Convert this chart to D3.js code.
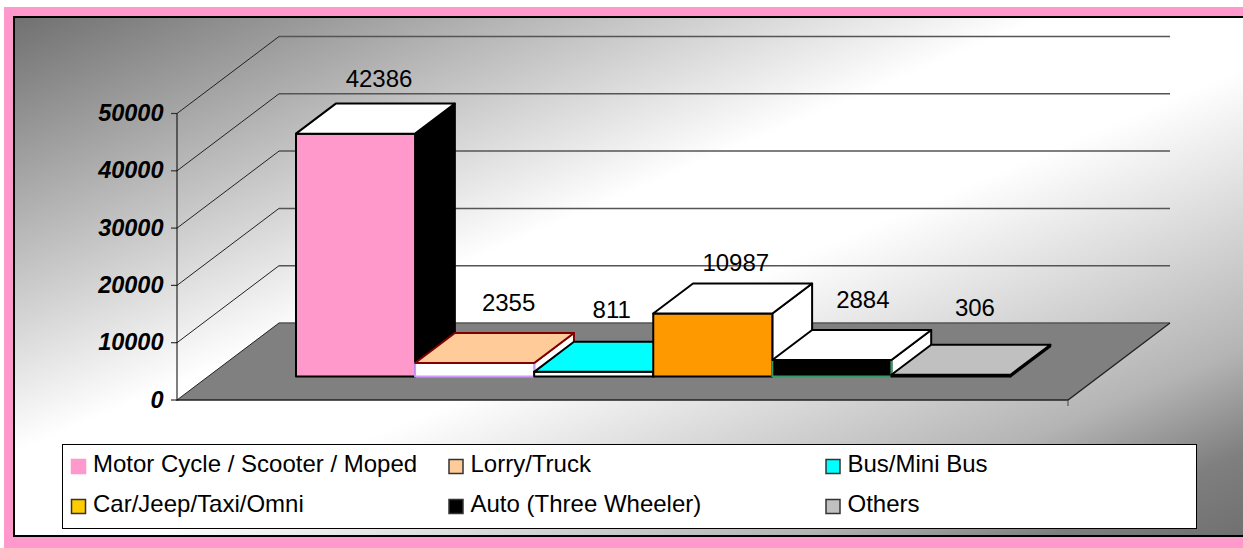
<!DOCTYPE html>
<html><head><meta charset="utf-8">
<style>html,body{margin:0;padding:0;background:#fff}svg{display:block}text{font-family:"Liberation Sans",Arial,sans-serif}</style>
<script src="https://cdn.jsdelivr.net/npm/d3@7/dist/d3.min.js"></script>
</head><body><svg id="c" width="1243" height="548"></svg>
<script>
const categories=["Motor Cycle / Scooter / Moped","Lorry/Truck","Bus/Mini Bus","Car/Jeep/Taxi/Omni","Auto (Three Wheeler)","Others"];
const values=[42386,2355,811,10987,2884,306];
const yTicks=[0,10000,20000,30000,40000,50000];

const frontFill=["#FF99CC","#FFFFFF","#FFFFFF","#FF9900","#000000","#000000"];
const topFill=["#FFFFFF","#FFCC99","#00FFFF","#FFFFFF","#FFFFFF","#C0C0C0"];
const sideFill=["#000000","#FFFFFF","#FFFFFF","#FFFFFF","#FFFFFF","#000000"];
const strokeTop=["#000","#800000","#000","#000","#000","#000"];
const strokeFront=["#000","#CC99FF","#000","#000","#339966","#000"];
const legendFill=["#FF99CC","#FFCC99","#00FFFF","#FFCC00","#000000","#C0C0C0"];

const svg=d3.select("#c");
const defs=svg.append("defs");
const g=defs.append("linearGradient").attr("id","bg").attr("x1",0).attr("y1",0).attr("x2",1).attr("y2",1);
[[0,"#707070"],[0.42,"#ffffff"],[0.55,"#ffffff"],[0.82,"#b4b4b4"],[0.92,"#7f7f7f"],[1,"#707070"]].forEach(d=>g.append("stop").attr("offset",d[0]).attr("stop-color",d[1]));

svg.append("rect").attr("x",4).attr("y",7).attr("width",1239).attr("height",541).attr("fill","#FF99CC");
svg.append("rect").attr("x",13).attr("y",17).attr("width",1230).attr("height",519).attr("fill","url(#bg)");
svg.append("path").attr("d","M1243,17H14V536H1243").attr("fill","none").attr("stroke","#000").attr("stroke-width",2);

// oblique projection: (x along the axis, y value, z depth 0..1)
const xS=d3.scaleLinear().domain([0,6]).range([296,1010.5]);
const yS=d3.scaleLinear().domain([0,50000]).range([400,113.5]);
const depthX=102, depthY=-77;
const P=(x,y,z)=>[x+z*depthX,y+z*depthY];
const poly=pts=>"M"+pts.map(p=>p.join(",")).join("L")+"Z";
const axisX0=177, axisX1=1068;

// walls and floor
const gridG=svg.append("g");
gridG.append("path").attr("d",poly([P(axisX0,400,0),P(axisX1,400,0),P(axisX1,400,1),P(axisX0,400,1)]))
  .attr("fill","#808080").attr("stroke","none");
yTicks.forEach(t=>{
  const y=yS(t);
  const a=P(axisX0,y,0),b=P(axisX0,y,1),c=P(axisX1,y,1);
  gridG.append("line").attr("x1",b[0]).attr("y1",b[1]).attr("x2",c[0]).attr("y2",c[1]).attr("stroke","#555").attr("stroke-width",1.5);
  gridG.append("line").attr("x1",a[0]).attr("y1",a[1]).attr("x2",b[0]).attr("y2",b[1]).attr("stroke","#222");
  gridG.append("line").attr("x1",axisX0-6).attr("x2",axisX0).attr("y1",y).attr("y2",y).attr("stroke","#333").attr("stroke-width",1.2);
});
gridG.append("path").attr("d",`M${P(axisX0,400,0)}L${P(axisX1,400,0)}L${P(axisX1,400,1)}`).attr("fill","none").attr("stroke","#222").attr("stroke-width",1.3);
gridG.append("line").attr("x1",axisX0).attr("x2",axisX0).attr("y1",yS(50000)).attr("y2",401).attr("stroke","#000");
gridG.append("line").attr("x1",axisX1).attr("x2",axisX1).attr("y1",400).attr("y2",406).attr("stroke","#444");

svg.append("g").selectAll("text").data(yTicks).join("text")
  .attr("x",axisX0-13.5).attr("y",d=>yS(d)+7.5).attr("text-anchor","end")
  .attr("font-size",23.5).attr("font-weight","bold").attr("font-style","italic").attr("fill","#000").text(d=>d);

// bars, drawn left to right so later bars overlap earlier ones
const zd=0.39, barBase=376.5;
const labelDx=[23.5,34,18,23,31,24], labelDy=[-47,-52.5,-54,-43,-51.5,-59];
const barG=svg.append("g");
values.forEach((v,i)=>{
  const xa=xS(i), xb=xS(i+1), yb=barBase, yt=yb-(yS(0)-yS(v));
  const front=(x,y)=>[x,y];
  const back=(x,y)=>[x+zd*depthX,y+zd*depthY];
  barG.append("path").attr("d",poly([front(xb,yt),back(xb,yt),back(xb,yb),front(xb,yb)]))
    .attr("fill",sideFill[i]).attr("stroke",strokeTop[i]).attr("stroke-width",2).attr("stroke-linejoin","round");
  barG.append("path").attr("d",poly([front(xa,yb),front(xb,yb),front(xb,yt),front(xa,yt)]))
    .attr("fill",frontFill[i]).attr("stroke",strokeFront[i]).attr("stroke-width",2).attr("stroke-linejoin","round");
  barG.append("path").attr("d",poly([front(xa,yt),front(xb,yt),back(xb,yt),back(xa,yt)]))
    .attr("fill",topFill[i]).attr("stroke",strokeTop[i]).attr("stroke-width",2).attr("stroke-linejoin","round");
  barG.append("text").attr("x",(xa+xb)/2+labelDx[i]).attr("y",yt+labelDy[i]).attr("text-anchor","middle")
    .attr("font-size",24).attr("fill","#000").text(v);
});

// legend
const lg=svg.append("g");
lg.append("rect").attr("x",62.5).attr("y",444.5).attr("width",1134).attr("height",84).attr("fill","#fff").attr("stroke","#000");
const colX=[71.5,449,826], rowY=[472,512];
categories.forEach((c,i)=>{
  const x=colX[i%3], y=rowY[Math.floor(i/3)];
  lg.append("rect").attr("x",x).attr("y",y-12.5).attr("width",14).attr("height",14).attr("fill",legendFill[i])
    .attr("stroke",i==0?"#FF99CC":"#333").attr("stroke-width",1.5);
  lg.append("text").attr("x",x+21.5).attr("y",y).attr("font-size",24).attr("fill","#000").text(c);
});
</script></body></html>
